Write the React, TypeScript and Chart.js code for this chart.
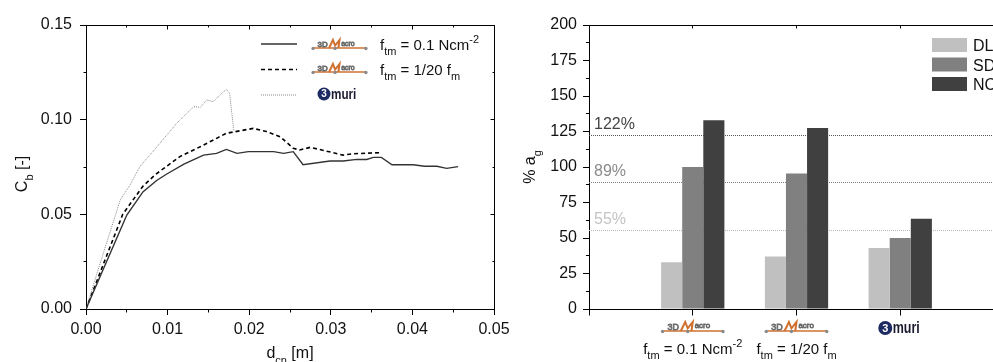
import React, { useEffect, useRef } from 'react';
import { Chart, registerables } from 'chart.js';

Chart.register(...registerables);

const FONT = "'Liberation Sans', Arial, Helvetica, sans-serif";

// ---------- Left chart data (capacity curves) ----------
const dispFm01 = [0, 0.005, 0.007, 0.0087, 0.0099, 0.012, 0.0144, 0.016, 0.0172, 0.0185, 0.0199, 0.023, 0.0242, 0.0254, 0.0266, 0.0299, 0.0315, 0.0332, 0.0344, 0.0352, 0.0362, 0.0375, 0.0401, 0.0415, 0.043, 0.0442, 0.0456];
const cbFm01 = [0, 0.0496, 0.062, 0.068, 0.0713, 0.0765, 0.0813, 0.0822, 0.0843, 0.0822, 0.0831, 0.0831, 0.0822, 0.0831, 0.0762, 0.0782, 0.0782, 0.079, 0.079, 0.0801, 0.0801, 0.0762, 0.0762, 0.0754, 0.0754, 0.0743, 0.0752];

const dispFm20 = [0, 0.0045, 0.007, 0.0085, 0.0115, 0.014, 0.0172, 0.0205, 0.0221, 0.0238, 0.0254, 0.0262, 0.0275, 0.0315, 0.0328, 0.0362];
const cbFm20 = [0, 0.05, 0.065, 0.071, 0.0805, 0.0857, 0.0928, 0.0954, 0.0937, 0.091, 0.0849, 0.084, 0.0854, 0.0813, 0.082, 0.0826];

const dispMuri = [0, 0.0015, 0.0029, 0.0042, 0.0054, 0.0066, 0.0087, 0.0111, 0.0132, 0.014, 0.0148, 0.0156, 0.0164, 0.0172, 0.0176, 0.0181, 0.0183];
const cbMuri = [0, 0.021, 0.04, 0.0576, 0.0655, 0.0752, 0.0857, 0.098, 0.1069, 0.1065, 0.1104, 0.1095, 0.113, 0.116, 0.1139, 0.0946, 0.0937];

const leftXMax = 0.05;
const leftYMax = 0.15;
const leftXStep = 0.01;
const leftYStep = 0.05;

// ---------- Right chart data (bars) ----------
const barCategories = ['', '3DMacro f_tm = 0.1', '3DMacro f_tm = 1/20 f_m', '3muri', ''];
const seriesNames = ['DL', 'SD', 'NC'];
const dlValues = [null, 33, 37, 43, null];
const sdValues = [null, 100, 95.5, 50, null];
const ncValues = [null, 133, 127.5, 63.5, null];
const thresholdValues = [122, 89, 55];
const thresholdLabels = ['122%', '89%', '55%'];
const rightYMax = 200;
const rightYStep = 25;

type Part = { t: string; s?: 'sub' | 'sup' };

function partFont(size: number, p: Part) {
  const s = p.s ? Math.round(size * 0.7) : size;
  return `${s}px ${FONT}`;
}
function richWidth(ctx: CanvasRenderingContext2D, parts: Part[], size: number) {
  let w = 0;
  for (const p of parts) {
    ctx.font = partFont(size, p);
    w += ctx.measureText(p.t).width;
  }
  return w;
}
function drawRich(ctx: CanvasRenderingContext2D, parts: Part[], x: number, y: number, size: number, align: 'left' | 'center', color: string) {
  ctx.save();
  ctx.fillStyle = color;
  ctx.textBaseline = 'alphabetic';
  ctx.textAlign = 'left';
  let cx = align === 'center' ? x - richWidth(ctx, parts, size) / 2 : x;
  for (const p of parts) {
    ctx.font = partFont(size, p);
    const dy = p.s === 'sub' ? size * 0.35 : p.s === 'sup' ? -size * 0.45 : 0;
    ctx.fillText(p.t, cx, y + dy);
    cx += ctx.measureText(p.t).width;
  }
  ctx.restore();
}

function drawMacroLogo(ctx: CanvasRenderingContext2D, x: number, y: number, w: number, h: number) {
  ctx.save();
  const orange = '#d0702e';
  ctx.strokeStyle = orange;
  ctx.lineWidth = 1.6;
  ctx.beginPath();
  ctx.moveTo(x + 0.03 * w, y);
  ctx.lineTo(x + 0.97 * w, y);
  ctx.stroke();
  ctx.lineWidth = 2;
  ctx.beginPath();
  ctx.moveTo(x + 0.31 * w, y);
  ctx.lineTo(x + 0.38 * w, y - h);
  ctx.lineTo(x + 0.42 * w, y - 0.3 * h);
  ctx.lineTo(x + 0.5 * w, y - h);
  ctx.lineTo(x + 0.48 * w, y);
  ctx.stroke();
  ctx.strokeStyle = '#6a6a6a';
  ctx.lineWidth = 0.8;
  ctx.textBaseline = 'alphabetic';
  ctx.font = `${Math.round(h * 1.05)}px ${FONT}`;
  ctx.strokeText('3D', x + 0.1 * w, y - 1.5);
  ctx.font = `${Math.round(h * 0.85)}px ${FONT}`;
  ctx.strokeText('acro', x + 0.53 * w, y - h * 0.3);
  ctx.fillStyle = '#8a8a8a';
  for (const f of [0.02, 0.42, 0.98]) {
    ctx.beginPath();
    ctx.arc(x + f * w, y + 0.5, 1.7, 0, Math.PI * 2);
    ctx.fill();
  }
  ctx.restore();
}

function drawMuriLogo(ctx: CanvasRenderingContext2D, cx: number, cy: number, r: number, size: number) {
  ctx.save();
  ctx.fillStyle = '#1d2b63';
  ctx.beginPath();
  ctx.arc(cx, cy, r, 0, Math.PI * 2);
  ctx.fill();
  ctx.fillStyle = '#fff';
  ctx.font = `bold ${Math.round(r * 1.6)}px ${FONT}`;
  ctx.textAlign = 'center';
  ctx.textBaseline = 'middle';
  ctx.fillText('3', cx, cy + 0.5);
  ctx.fillStyle = '#1a1a30';
  ctx.textAlign = 'left';
  ctx.textBaseline = 'alphabetic';
  ctx.translate(cx + r + 0.5, cy + r * 0.75);
  ctx.scale(0.78, 1);
  ctx.font = `bold ${size}px ${FONT}`;
  ctx.fillText('muri', 0, 0);
  ctx.restore();
}

const al = (p: number) => Math.round(p - 0.5) + 0.5;

function seg(ctx: CanvasRenderingContext2D, x1: number, y1: number, x2: number, y2: number) {
  ctx.beginPath();
  ctx.moveTo(x1, y1);
  ctx.lineTo(x2, y2);
  ctx.stroke();
}

const leftDecor = {
  id: 'leftDecor',
  afterDraw(chart: any) {
    const ctx: CanvasRenderingContext2D = chart.ctx;
    const a = chart.chartArea;
    const xs = chart.scales.x;
    const ys = chart.scales.y;
    ctx.save();
    ctx.strokeStyle = '#000';
    ctx.lineWidth = 1;
    const L = al(a.left), R = al(a.right), T = al(a.top), B = al(a.bottom);
    seg(ctx, L, T, R, T);
    seg(ctx, R, T, R, B);
    for (let i = 0; i <= 10; i++) {
      const v = (leftXMax / 10) * i;
      const px = al(xs.getPixelForValue(v));
      const major = i % 2 === 0;
      if (!major) seg(ctx, px, B, px, B + 3);
      seg(ctx, px, T, px, T + (major ? 4 : 2));
    }
    for (let i = 0; i <= 6; i++) {
      const v = (leftYMax / 6) * i;
      const py = al(ys.getPixelForValue(v));
      const major = i % 2 === 0;
      if (!major) seg(ctx, L, py, L - 3, py);
      seg(ctx, R, py, R - (major ? 4 : 2), py);
    }
    // legend
    const lx1 = 261, lx2 = 297;
    ctx.lineWidth = 1.4;
    ctx.strokeStyle = '#333';
    seg(ctx, lx1, 44, lx2, 44);
    ctx.strokeStyle = '#000';
    ctx.lineWidth = 1.6;
    ctx.setLineDash([4, 3]);
    seg(ctx, lx1, 69.5, lx2, 69.5);
    ctx.strokeStyle = '#8a8a8a';
    ctx.lineWidth = 1;
    ctx.setLineDash([1, 1]);
    seg(ctx, lx1, 95, lx2, 95);
    ctx.setLineDash([]);
    drawMacroLogo(ctx, 312, 48, 55, 8);
    drawMacroLogo(ctx, 312, 72, 55, 8);
    drawMuriLogo(ctx, 324, 94, 6.5, 15);
    drawRich(ctx, [{ t: 'f' }, { t: 'tm', s: 'sub' }, { t: ' = 0.1 Ncm' }, { t: '-2', s: 'sup' }], 380, 50, 15, 'left', '#111');
    drawRich(ctx, [{ t: 'f' }, { t: 'tm', s: 'sub' }, { t: ' = 1/20 f' }, { t: 'm', s: 'sub' }], 380, 75, 15, 'left', '#111');
    // axis titles
    drawRich(ctx, [{ t: 'd' }, { t: 'cn', s: 'sub' }, { t: ' [m]' }], (a.left + a.right) / 2, 358, 16, 'center', '#111');
    ctx.save();
    ctx.translate(27, 174);
    ctx.rotate(-Math.PI / 2);
    drawRich(ctx, [{ t: 'C' }, { t: 'b', s: 'sub' }, { t: ' [-]' }], 0, 0, 16, 'center', '#111');
    ctx.restore();
    ctx.restore();
  },
};

const rightDecor = {
  id: 'rightDecor',
  beforeDatasetsDraw(chart: any) {
    const ctx: CanvasRenderingContext2D = chart.ctx;
    const a = chart.chartArea;
    const ys = chart.scales.y;
    const colors = ['#555', '#808080', '#b8b8b8'];
    ctx.save();
    ctx.lineWidth = 1;
    ctx.setLineDash([1, 1]);
    thresholdValues.forEach((v, i) => {
      const py = al(ys.getPixelForValue(v));
      ctx.strokeStyle = colors[i];
      seg(ctx, a.left, py, a.right, py);
    });
    ctx.restore();
  },
  afterDraw(chart: any) {
    const ctx: CanvasRenderingContext2D = chart.ctx;
    const a = chart.chartArea;
    const xs = chart.scales.x;
    const ys = chart.scales.y;
    ctx.save();
    ctx.strokeStyle = '#000';
    ctx.lineWidth = 1;
    const L = al(a.left), R = al(a.right), T = al(a.top), B = al(a.bottom);
    seg(ctx, L, T, R, T);
    seg(ctx, R, T, R, B);
    for (let i = 0; i < barCategories.length; i++) {
      const px = al(xs.getPixelForValue(i));
      seg(ctx, px, B, px, B + 6);
      seg(ctx, px, T, px, T + 3);
    }
    for (let v = rightYStep / 2; v < rightYMax; v += rightYStep) {
      const py = al(ys.getPixelForValue(v));
      seg(ctx, L, py, L - 3.5, py);
    }
    const lcolors = ['#444', '#8a8a8a', '#c4c4c4'];
    thresholdValues.forEach((v, i) => {
      const py = ys.getPixelForValue(v);
      ctx.fillStyle = lcolors[i];
      ctx.font = `16px ${FONT}`;
      ctx.textBaseline = 'alphabetic';
      ctx.fillText(thresholdLabels[i], a.left + 5, py - 7);
    });
    const fills = ['#c0c0c0', '#808080', '#404040'];
    seriesNames.forEach((n, i) => {
      const y0 = 38 + i * 19.5;
      ctx.fillStyle = fills[i];
      ctx.fillRect(412, y0, 35, 14);
      ctx.fillStyle = '#111';
      ctx.font = `16px ${FONT}`;
      ctx.fillText(n, 453, y0 + 13);
    });
    const c1 = xs.getPixelForValue(1);
    const c2 = xs.getPixelForValue(2);
    const c3 = xs.getPixelForValue(3);
    drawMacroLogo(ctx, c1 - 31.5, 331, 63, 9);
    drawMacroLogo(ctx, c2 - 31.5, 331, 63, 9);
    drawMuriLogo(ctx, c3 - 15, 328, 7, 16);
    drawRich(ctx, [{ t: 'f' }, { t: 'tm', s: 'sub' }, { t: ' = 0.1 Ncm' }, { t: '-2', s: 'sup' }], c1, 354, 15, 'center', '#111');
    drawRich(ctx, [{ t: 'f' }, { t: 'tm', s: 'sub' }, { t: ' = 1/20 f' }, { t: 'm', s: 'sub' }], c2, 354, 15, 'center', '#111');
    ctx.save();
    ctx.translate(15, 167);
    ctx.rotate(-Math.PI / 2);
    drawRich(ctx, [{ t: '% a' }, { t: 'g', s: 'sub' }], 0, 0, 16, 'center', '#111');
    ctx.restore();
    ctx.restore();
  },
};

function LeftChart() {
  const ref = useRef<HTMLCanvasElement>(null);
  useEffect(() => {
    if (!ref.current) return;
    const mk = (xs: number[], ys: number[]) => xs.map((x, i) => ({ x, y: ys[i] }));
    const chart = new Chart(ref.current, {
      type: 'line',
      data: {
        datasets: [
          { label: 'fm01', data: mk(dispFm01, cbFm01), borderColor: '#333', borderWidth: 1.4, pointRadius: 0, tension: 0, fill: false },
          { label: 'fm20', data: mk(dispFm20, cbFm20), borderColor: '#000', borderWidth: 1.6, borderDash: [4, 3], pointRadius: 0, tension: 0, fill: false },
          { label: 'muri', data: mk(dispMuri, cbMuri), borderColor: '#8a8a8a', borderWidth: 1, borderDash: [1, 1], pointRadius: 0, tension: 0, fill: false },
        ],
      },
      options: {
        responsive: false,
        animation: false,
        layout: { padding: { left: 0, top: 25, right: 26, bottom: 0 } },
        plugins: { legend: { display: false }, tooltip: { enabled: false } },
        scales: {
          x: {
            type: 'linear',
            min: 0,
            max: leftXMax,
            ticks: { stepSize: leftXStep, callback: (v: any) => Number(v).toFixed(2), font: { size: 16, family: FONT }, color: '#111', padding: 5, maxRotation: 0 },
            grid: { drawOnChartArea: false, drawTicks: true, tickLength: 6, color: '#000' },
            border: { display: true, color: '#000', width: 1 },
            afterFit: (s: any) => { s.height = 53; },
          },
          y: {
            type: 'linear',
            min: 0,
            max: leftYMax,
            ticks: { stepSize: leftYStep, callback: (v: any) => Number(v).toFixed(2), font: { size: 16, family: FONT }, color: '#111', padding: 8 },
            grid: { drawOnChartArea: false, drawTicks: true, tickLength: 6, color: '#000' },
            border: { display: true, color: '#000', width: 1 },
            afterFit: (s: any) => { s.width = 86; },
          },
        },
      } as any,
      plugins: [leftDecor],
    });
    return () => chart.destroy();
  }, []);
  return <canvas ref={ref} width={520} height={362} style={{ position: 'absolute', left: 0, top: 0, width: 520, height: 362 }} />;
}

function RightChart() {
  const ref = useRef<HTMLCanvasElement>(null);
  useEffect(() => {
    if (!ref.current) return;
    const chart = new Chart(ref.current, {
      type: 'bar',
      data: {
        labels: barCategories,
        datasets: [
          { label: seriesNames[0], data: dlValues, backgroundColor: '#c0c0c0', borderWidth: 0 },
          { label: seriesNames[1], data: sdValues, backgroundColor: '#808080', borderWidth: 0 },
          { label: seriesNames[2], data: ncValues, backgroundColor: '#404040', borderWidth: 0 },
        ],
      },
      options: {
        responsive: false,
        animation: false,
        categoryPercentage: 0.61,
        barPercentage: 1,
        layout: { padding: { left: 0, top: 25, right: 16, bottom: 0 } },
        plugins: { legend: { display: false }, tooltip: { enabled: false } },
        scales: {
          x: {
            type: 'category',
            offset: false,
            ticks: { display: false },
            grid: { display: false, offset: false },
            border: { display: true, color: '#000', width: 1 },
            afterFit: (s: any) => { s.height = 53; },
          },
          y: {
            type: 'linear',
            min: 0,
            max: rightYMax,
            ticks: { stepSize: rightYStep, font: { size: 16, family: FONT }, color: '#111', padding: 6 },
            grid: { drawOnChartArea: false, drawTicks: true, tickLength: 6, color: '#000' },
            border: { display: true, color: '#000', width: 1 },
            afterFit: (s: any) => { s.width = 69; },
          },
        },
      } as any,
      plugins: [rightDecor],
    });
    return () => chart.destroy();
  }, []);
  return <canvas ref={ref} width={500} height={362} style={{ position: 'absolute', left: 520, top: 0, width: 500, height: 362 }} />;
}

export default function App() {
  return (
    <div style={{ position: 'absolute', left: 0, top: 0, width: 993, height: 362, overflow: 'hidden', background: '#fff' }}>
      <LeftChart />
      <RightChart />
    </div>
  );
}
